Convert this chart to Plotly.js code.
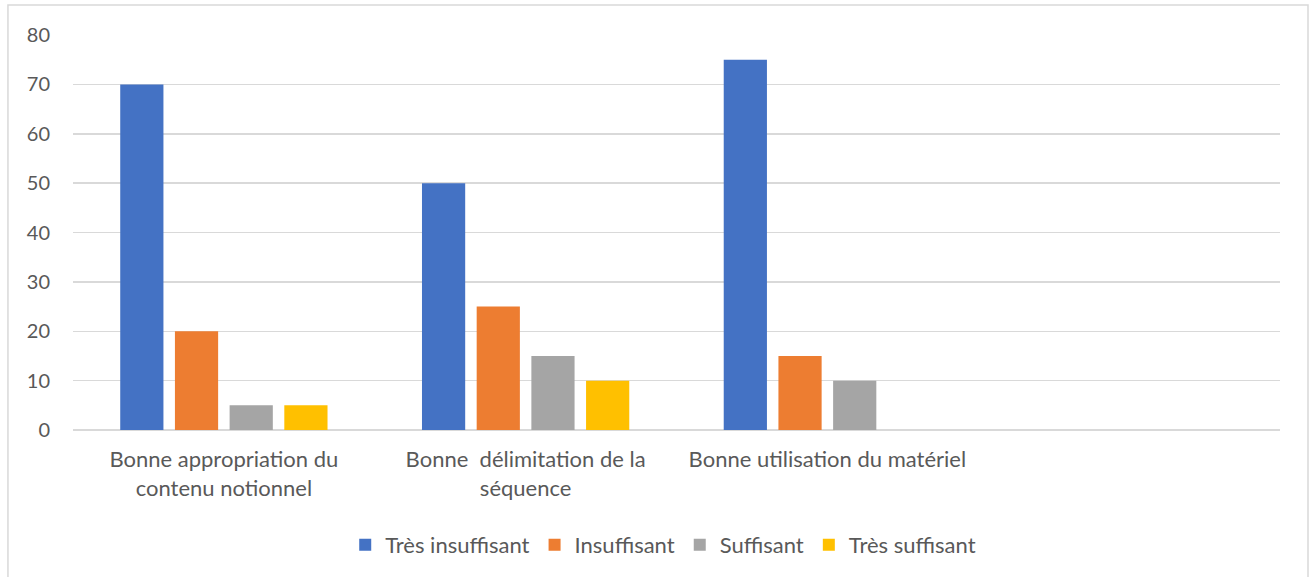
<!DOCTYPE html>
<html>
<head>
<meta charset="utf-8">
<script src="https://cdn.plot.ly/plotly-3.0.1.min.js"></script>
<style>html,body{margin:0;padding:0;background:#fff;}#chart{width:1311px;height:577px;}</style>
</head>
<body>
<div id="chart"></div>
<script>
const categories = [
  "Bonne appropriation du<br>contenu notionnel",
  "Bonne\u00a0 délimitation de la<br>séquence",
  "Bonne utilisation du matériel"
];
const seriesNames = ["Très insuffisant", "Insuffisant", "Suffisant", "Très suffisant"];
const tresInsuffisant = [70, 50, 75];
const insuffisant = [20, 25, 15];
const suffisant = [5, 15, 10];
const tresSuffisant = [5, 10, null];
const yTicks = [0, 10, 20, 30, 40, 50, 60, 70, 80];

const colors = ["#4472C4", "#ED7D31", "#A5A5A5", "#FFC000"];
const values = [tresInsuffisant, insuffisant, suffisant, tresSuffisant];

const data = values.map((v, i) => ({
  type: "bar",
  name: seriesNames[i],
  x: categories,
  y: v,
  marker: {color: colors[i]},
  hoverinfo: "y"
}));

const fam = "Lato, 'Open Sans', sans-serif";
const font = {family: fam, size: 22, color: "#595959"};

const layout = {
  width: 1311,
  height: 577,
  margin: {l: 73, r: 31, t: 35, b: 146},
  paper_bgcolor: "#ffffff",
  plot_bgcolor: "#ffffff",
  font: font,
  barmode: "group",
  bargap: 0.275,
  bargroupgap: 0.21,
  showlegend: true,
  legend: {
    orientation: "h",
    x: 0.489,
    xanchor: "center",
    y: -0.288,
    yanchor: "middle",
    font: font,
    itemwidth: 30,
    traceorder: "normal"
  },
  xaxis: {
    type: "category",
    range: [-0.5, 3.5],
    showgrid: false,
    zeroline: false,
    showline: false,
    ticks: "",
    ticklabelstandoff: 14,
    tickfont: font,
    fixedrange: true
  },
  yaxis: {
    range: [0, 80],
    tickvals: yTicks,
    ticktext: yTicks.map(String),
    showgrid: true,
    gridcolor: "#d9d9d9",
    gridwidth: 1.5,
    zeroline: true,
    zerolinecolor: "#d9d9d9",
    zerolinewidth: 1.5,
    showline: false,
    ticks: "",
    ticklabelstandoff: 22,
    tickfont: {family: fam, size: 20, color: "#595959"},
    fixedrange: true
  },
  shapes: [{
    type: "rect",
    xref: "paper",
    yref: "paper",
    x0: -0.0539,
    x1: 1.0232,
    y0: -0.5,
    y1: 1.0758,
    line: {color: "#d9d9d9", width: 1.5},
    fillcolor: "rgba(0,0,0,0)",
    layer: "below"
  }]
};

Plotly.newPlot("chart", data, layout, {displayModeBar: false, staticPlot: true});
</script>
</body>
</html>
